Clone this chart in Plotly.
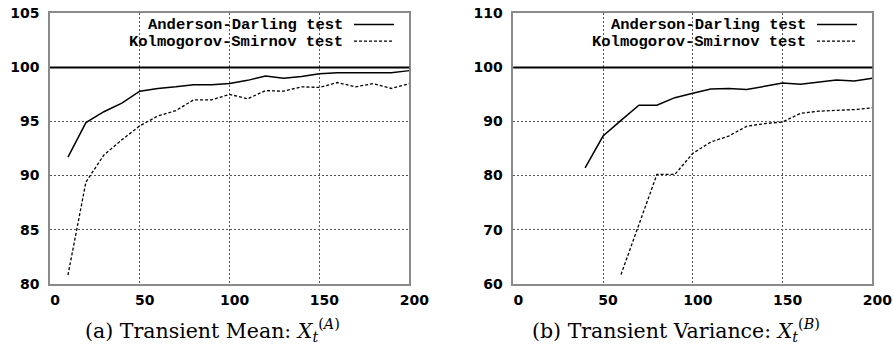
import plotly.graph_objects as go

# ---- data ----
x_steps = [10, 20, 30, 40, 50, 60, 70, 80, 90, 100, 110, 120, 130, 140, 150, 160, 170, 180, 190, 200]
ad_mean = [91.7, 94.9, 95.9, 96.7, 97.8, 98.05, 98.2, 98.4, 98.4, 98.5, 98.8, 99.2, 99.0, 99.15, 99.4, 99.5, 99.5, 99.5, 99.5, 99.7]
ks_mean = [80.8, 89.4, 91.9, 93.3, 94.6, 95.5, 96.0, 97.0, 97.0, 97.5, 97.1, 97.85, 97.8, 98.2, 98.15, 98.6, 98.2, 98.5, 98.05, 98.5]

x_var_ad = [40, 50, 60, 70, 80, 90, 100, 110, 120, 130, 140, 150, 160, 170, 180, 190, 200]
ad_var = [81.4, 87.3, 90.2, 93.0, 93.0, 94.4, 95.2, 96.0, 96.1, 95.9, 96.5, 97.1, 96.9, 97.3, 97.65, 97.5, 98.0]
x_var_ks = [60, 70, 80, 90, 100, 110, 120, 130, 140, 150, 160, 170, 180, 190, 200]
ks_var = [61.7, 71.0, 80.2, 80.2, 84.1, 86.2, 87.3, 89.1, 89.6, 89.9, 91.5, 91.9, 92.0, 92.2, 92.5]

reference_level = 100
x_ticks = [0, 50, 100, 150, 200]
y_ticks_a = [80, 85, 90, 95, 100, 105]
y_ticks_b = [60, 70, 80, 90, 100, 110]

legend_labels = ["Anderson-Darling test", "Kolmogorov-Smirnov test"]
captions = ["(a) Transient Mean: <i>X</i><sub><i>t</i></sub><sup>(<i>A</i>)</sup>",
            "(b) Transient Variance: <i>X</i><sub><i>t</i></sub><sup>(<i>B</i>)</sup>"]

W, H = 894, 350
TICK_FONT = dict(family="DejaVu Sans", size=14, color="black", weight="bold")
LEG_FONT = dict(family="Liberation Mono, Courier New, monospace", size=15.5, color="black", weight="bold")
CAP_FONT = dict(family="DejaVu Serif, Liberation Serif, serif", size=20.5, color="black")

fig = go.Figure()

solid = dict(color="black", width=1.5)
dashed = dict(color="black", width=1.3, dash="3px,2px")

fig.add_trace(go.Scatter(x=x_steps, y=ad_mean, mode="lines", line=solid, xaxis="x", yaxis="y", showlegend=False))
fig.add_trace(go.Scatter(x=x_steps, y=ks_mean, mode="lines", line=dashed, xaxis="x", yaxis="y", showlegend=False))
fig.add_trace(go.Scatter(x=x_var_ad, y=ad_var, mode="lines", line=solid, xaxis="x2", yaxis="y2", showlegend=False))
fig.add_trace(go.Scatter(x=x_var_ks, y=ks_var, mode="lines", line=dashed, xaxis="x2", yaxis="y2", showlegend=False))

ydom = [1 - 283.7 / H, 1 - 13.3 / H]
axis_common = dict(showline=True, mirror=True, linecolor="#8a8a8a", linewidth=1.5,
                   showgrid=True, gridcolor="#555555", gridwidth=1, griddash="2px,2px",
                   zeroline=False, ticks="", tickfont=TICK_FONT, automargin=False)

fig.update_layout(
    width=W, height=H,
    margin=dict(l=0, r=0, t=0, b=0, autoexpand=False),
    paper_bgcolor="white", plot_bgcolor="white",
    showlegend=False,
    xaxis=dict(domain=[50 / W, 409.3 / W], range=[0, 200], tickvals=x_ticks, anchor="y",
               ticklabelshift=5, ticklabelstandoff=3, **axis_common),
    yaxis=dict(domain=ydom, range=[80, 105], tickvals=y_ticks_a, anchor="x",
               ticklabelstandoff=6, **axis_common),
    xaxis2=dict(domain=[513.3 / W, 872.3 / W], range=[0, 200], tickvals=x_ticks, anchor="y2",
                ticklabelshift=5, ticklabelstandoff=3, **axis_common),
    yaxis2=dict(domain=ydom, range=[60, 110], tickvals=y_ticks_b, anchor="x2",
                ticklabelstandoff=6, **axis_common),
)

# reference line at 100
for xr, yr in [("x domain", "y"), ("x2 domain", "y2")]:
    fig.add_shape(type="line", xref=xr, yref=yr, x0=0, x1=1, y0=reference_level, y1=reference_level,
                  line=dict(color="black", width=2), layer="above")

# manual legends (text right-aligned, sample line to the right)
legend_rows_y = [24.6, 41.2]
for xr, text_right in [("x domain", (344 - 50) / 359.3), ("x2 domain", (807 - 513.3) / 359.0)]:
    yr = "y domain" if xr == "x domain" else "y2 domain"
    for i, label in enumerate(legend_labels):
        yfrac = 1 - (legend_rows_y[i] - 13.3) / (283.7 - 13.3)
        fig.add_annotation(xref=xr, yref=yr, x=text_right, y=yfrac, text=label, showarrow=False,
                           xanchor="right", yanchor="middle", font=LEG_FONT, height=15, borderpad=0)
        fig.add_shape(type="line", xref=xr, yref=yr, x0=text_right + 10 / 359.3, x1=text_right + 50 / 359.3,
                      y0=yfrac, y1=yfrac, line=solid if i == 0 else dashed)

# captions
for cx, cap in zip([212 / W, 676 / W], captions):
    fig.add_annotation(xref="paper", yref="paper", x=cx, y=1 - 330 / H, text=cap, showarrow=False,
                       xanchor="center", yanchor="middle", font=CAP_FONT)

fig.write_html("out.html", config={"displayModeBar": False},
               post_script="document.body.style.margin='0px';document.body.style.overflow='hidden';")
